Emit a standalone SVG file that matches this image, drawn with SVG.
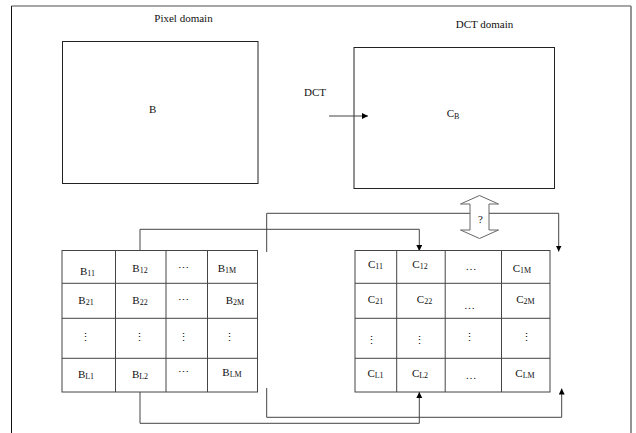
<svg xmlns="http://www.w3.org/2000/svg" width="636" height="433" viewBox="0 0 636 433" font-family="'Liberation Serif', 'Times New Roman', serif">
<defs>
<style>
text{font-family:"Liberation Serif","Times New Roman",serif;font-size:11px;fill:#111;text-anchor:middle}
.sub{font-size:8px}
.box{fill:none;stroke:#222;stroke-width:1}
.grid{fill:none;stroke:#444;stroke-width:1}
.con{fill:none;stroke:#444;stroke-width:1}
</style>
<marker id="ah" viewBox="0 0 10 10" refX="10" refY="5" markerWidth="6" markerHeight="6" markerUnits="userSpaceOnUse" orient="auto">
<path d="M0,0 L10,5 L0,10 Z" fill="#000"/>
</marker>
</defs>
<rect width="636" height="433" fill="#fff"/>
<g id="frame">
<line x1="11.5" y1="6" x2="631" y2="6" stroke="#888" stroke-width="1.5"/>
<line x1="11.5" y1="6" x2="11.5" y2="433" stroke="#111" stroke-width="1"/>
<line x1="631" y1="6" x2="631" y2="433" stroke="#888" stroke-width="1.8"/>
</g>
<g id="titles">
<text x="183.5" y="21.5">Pixel domain</text>
<text x="484.5" y="27.5">DCT domain</text>
<text x="315" y="95.5">DCT</text>
</g>
<g id="pixelBlock">
<rect class="box" x="62.5" y="41.5" width="195.5" height="142"/>
<text x="152.7" y="113">B</text>
</g>
<g id="dctBlock">
<rect class="box" x="354" y="47.5" width="200.5" height="141"/>
<text x="453" y="117">C<tspan class="sub" dy="1.5">B</tspan></text>
</g>
<g id="connectors">
<line class="con" x1="329" y1="116" x2="368" y2="116" marker-end="url(#ah)"/>
<polyline class="con" points="266.7,252 266.7,213.3 558.7,213.3 558.7,251.5" marker-end="url(#ah)"/>
<polyline class="con" points="140,250 140,229.3 419.3,229.3 419.3,251" marker-end="url(#ah)"/>
<polyline class="con" points="140,392 140,423.3 419.3,423.3 419.3,392" marker-end="url(#ah)"/>
<polyline class="con" points="266.7,388 266.7,417.3 561.7,417.3 561.7,388.5" marker-end="url(#ah)"/>
</g>
<g id="question">
<polygon points="479.5,195.5 498.5,204 489,204 489,230 498.5,230 479.5,238.5 460.5,230 470,230 470,204 460.5,204" fill="#fff" stroke="#666" stroke-width="1"/>
<text x="480.5" y="223" fill="#2a3560">?</text>
</g>
<g id="pixelTable">
<rect class="grid" x="62" y="250.5" width="195.5" height="141.5"/>
<line class="grid" x1="115.5" y1="250.5" x2="115.5" y2="392"/>
<line class="grid" x1="166" y1="250.5" x2="166" y2="392"/>
<line class="grid" x1="207.5" y1="250.5" x2="207.5" y2="392"/>
<line class="grid" x1="62" y1="283.3" x2="257.5" y2="283.3"/>
<line class="grid" x1="62" y1="318.3" x2="257.5" y2="318.3"/>
<line class="grid" x1="62" y1="358.3" x2="257.5" y2="358.3"/>
<text x="87.5" y="274.5">B<tspan class="sub" dy="1">11</tspan></text>
<text x="140" y="271.5">B<tspan class="sub" dy="1">12</tspan></text>
<text x="183.5" y="272">⋯</text>
<text x="227" y="271.5">B<tspan class="sub" dy="1">1M</tspan></text>
<text x="86" y="303.5">B<tspan class="sub" dy="1">21</tspan></text>
<text x="140" y="303.5">B<tspan class="sub" dy="1">22</tspan></text>
<text x="183.5" y="304">⋯</text>
<text x="235" y="303.5">B<tspan class="sub" dy="1">2M</tspan></text>
<text x="85" y="341">⋮</text>
<text x="139.5" y="341">⋮</text>
<text x="183.5" y="341">⋮</text>
<text x="229.5" y="341">⋮</text>
<text x="86" y="378">B<tspan class="sub" dy="1">L1</tspan></text>
<text x="140" y="378">B<tspan class="sub" dy="1">L2</tspan></text>
<text x="183.5" y="375.5">⋯</text>
<text x="232" y="375.5">B<tspan class="sub" dy="1">LM</tspan></text>
</g>
<g id="dctTable">
<rect class="grid" x="355" y="250.5" width="195" height="141.5"/>
<line class="grid" x1="396.7" y1="250.5" x2="396.7" y2="392"/>
<line class="grid" x1="445.2" y1="250.5" x2="445.2" y2="392"/>
<line class="grid" x1="501.5" y1="250.5" x2="501.5" y2="392"/>
<line class="grid" x1="355" y1="283.3" x2="550" y2="283.3"/>
<line class="grid" x1="355" y1="318.3" x2="550" y2="318.3"/>
<line class="grid" x1="355" y1="358.3" x2="550" y2="358.3"/>
<text x="375.5" y="267.5">C<tspan class="sub" dy="1">11</tspan></text>
<text x="420" y="267.5">C<tspan class="sub" dy="1">12</tspan></text>
<text x="471" y="270">…</text>
<text x="522" y="271.5">C<tspan class="sub" dy="1">1M</tspan></text>
<text x="375.5" y="303">C<tspan class="sub" dy="1">21</tspan></text>
<text x="424.5" y="303">C<tspan class="sub" dy="1">22</tspan></text>
<text x="469.5" y="308.5">…</text>
<text x="525.5" y="303">C<tspan class="sub" dy="1">2M</tspan></text>
<text x="371" y="344">⋮</text>
<text x="419.5" y="344">⋮</text>
<text x="469.5" y="340.5">⋮</text>
<text x="526" y="340.5">⋮</text>
<text x="375.5" y="377">C<tspan class="sub" dy="1">L1</tspan></text>
<text x="420" y="377">C<tspan class="sub" dy="1">L2</tspan></text>
<text x="471" y="378.5">…</text>
<text x="525" y="377">C<tspan class="sub" dy="1">LM</tspan></text>
</g>
</svg>
